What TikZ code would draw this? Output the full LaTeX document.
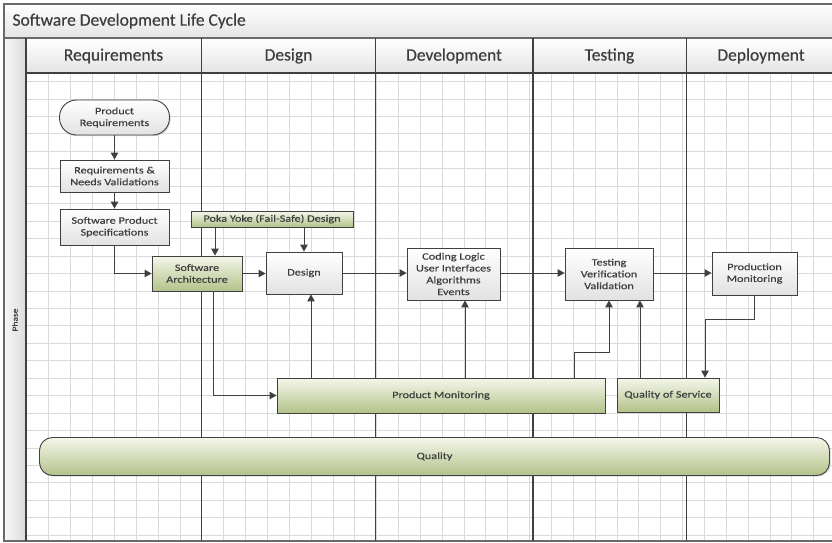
\documentclass[tikz,border=0pt]{standalone}
\usepackage{fontspec}
\setmainfont{Carlito}
\newfontfamily\headfont[FakeBold=0.3]{Carlito}
\newfontfamily\boxfont[FakeStretch=1.25,FakeBold=0.2]{Carlito}
\usetikzlibrary{arrows.meta,calc,shadows}

\definecolor{ink}{HTML}{404040}
\definecolor{textc}{HTML}{3C3C3C}
\definecolor{framec}{HTML}{6A6A6A}
\definecolor{gridc}{HTML}{DADADA}
\definecolor{greenTop}{HTML}{F5F7EB}
\definecolor{greenBot}{HTML}{B3C28A}
\definecolor{grayBot}{HTML}{E2E2E2}
\definecolor{barBot}{HTML}{E4E4E4}

\tikzset{
  box/.style={draw=ink, line width=0.9pt, top color=white, bottom color=grayBot,
    align=center, font=\boxfont\fontsize{9.8}{11.8}\selectfont, text=textc,
    inner sep=1pt,
    drop shadow={shadow xshift=1.2pt, shadow yshift=-1.2pt, opacity=0.3}},
  greenbox/.style={box, top color=greenTop, bottom color=greenBot},
  conn/.style={draw=ink, line width=1pt, -{Triangle[length=7pt,width=7.5pt]}},
  lane/.style={draw=ink, line width=1.1pt},
  headtext/.style={font=\headfont\fontsize{17.5}{20}\selectfont, text=textc},
}

\begin{document}
\begin{tikzpicture}[x=1pt,y=1pt]
\useasboundingbox (0,0) rectangle (832,-543);
\fill[white] (0,0) rectangle (832,-543);

% title bar, phase strip and lane headers
\shade[top color=white, bottom color=barBot] (4,-4) rectangle (840,-38);
\shade[left color=white!97!black, right color=white!86!black] (4,-38) rectangle (26,-541);
\shade[top color=white, bottom color=barBot] (26,-38) rectangle (840,-73);

% background grid of the lanes
\begin{scope}
  \clip (26,-73) rectangle (840,-541);
  \foreach \k in {1,...,37} \draw[gridc, line width=0.8pt] (27+21.85*\k,-73) -- (27+21.85*\k,-541);
  \foreach \k in {0,...,26} \draw[gridc, line width=0.8pt] (26,-81.5-17.45*\k) -- (840,-81.5-17.45*\k);
\end{scope}

% frame and lane dividers
\draw[framec, line width=1.3pt] (4,-4) rectangle (840,-541);
\draw[framec, line width=1.1pt] (4,-38) -- (840,-38);
\draw[lane] (26,-73) -- (840,-73);
\foreach \xx in {26,201.5,375.5,533,686.5} \draw[lane] (\xx,-38) -- (\xx,-541);

% texts of the frame
\node[headtext, anchor=west] (title) at (9,-21) {Software Development Life Cycle};
\node[headtext] (hReq) at (113.5,-56) {Requirements};
\node[headtext] (hDes) at (288.5,-56) {Design};
\node[headtext] (hDev) at (454,-56) {Development};
\node[headtext] (hTest) at (609.5,-56) {Testing};
\node[headtext] (hDep) at (761,-56) {Deployment};
\node[rotate=90, font=\boxfont\fontsize{7.6}{9}\selectfont, text=textc] (phase) at (15,-320) {Phase};

% process steps
\node[box, rounded corners=17pt, minimum width=110pt, minimum height=35pt] (pr) at (114.5,-117.5) {Product\\Requirements};
\node[box, minimum width=109pt, minimum height=32pt] (rnv) at (114.5,-176) {Requirements \&\\Needs Validations};
\node[box, minimum width=109pt, minimum height=36pt] (sps) at (114.5,-227) {Software Product\\Specifications};
\node[greenbox, minimum width=162pt, minimum height=16pt] (poka) at (272,-219) {Poka Yoke (Fail-Safe) Design};
\node[greenbox, minimum width=90pt, minimum height=35pt] (sa) at (197,-273.5) {Software\\Architecture};
\node[box, minimum width=76pt, minimum height=42pt] (des) at (304,-273) {Design};
\node[box, minimum width=93pt, minimum height=52pt] (code) at (453.5,-274) {Coding Logic\\User Interfaces\\Algorithms\\Events};
\node[box, minimum width=88pt, minimum height=52pt] (test) at (609,-274) {Testing\\Verification\\Validation};
\node[box, minimum width=85pt, minimum height=43pt] (prodmon) at (754.5,-273.5) {Production\\Monitoring};
\node[greenbox, minimum width=328pt, minimum height=35pt] (pm) at (441,-395.5) {Product Monitoring};
\node[greenbox, minimum width=102pt, minimum height=34pt] (qos) at (668,-395) {Quality of Service};
\node[greenbox, rounded corners=13pt, minimum width=790pt, minimum height=38pt] (qual) at (434.5,-456.5) {Quality};

% connector end points
\coordinate (saN) at ($(sa.north)+(18,0)$);
\coordinate (saS) at ($(sa.south)+(16,0)$);
\coordinate (desS) at ($(des.south)+(7,0)$);
\coordinate (codeS) at ($(code.south)+(11.5,0)$);
\coordinate (pmT) at ($(pm.north east)+(-31,0)$);
\coordinate (testS) at ($(test.south)+(31,0)$);
\coordinate (qosN) at ($(qos.north)+(37,0)$);

% connectors
\draw[conn] (pr) -- (rnv);
\draw[conn] (rnv) -- (sps);
\draw[conn] (sps.south) |- (sa.west);
\draw[conn] (saN |- poka.south) -- (saN);
\draw[conn] (des.north |- poka.south) -- (des.north);
\draw[conn] (sa.east) -- (sa.east -| des.west);
\draw[conn] (des.east) -- (des.east -| code.west);
\draw[conn] (code.east |- des.east) -- (des.east -| test.west);
\draw[conn] (test.east |- des.east) -- (des.east -| prodmon.west);
\draw[conn] (saS) |- (pm.west);
\draw[conn] (desS |- pm.north) -- (desS);
\draw[conn] (codeS |- pm.north) -- (codeS);
\draw[conn] (pmT) |- ($(test.south)+(0,-52)$) -- (test.south);
\draw[conn] (testS |- qos.north) -- (testS);
\draw[conn] (prodmon.south) |- ($(qosN)+(0,58)$) -- (qosN);
\end{tikzpicture}
\end{document}
